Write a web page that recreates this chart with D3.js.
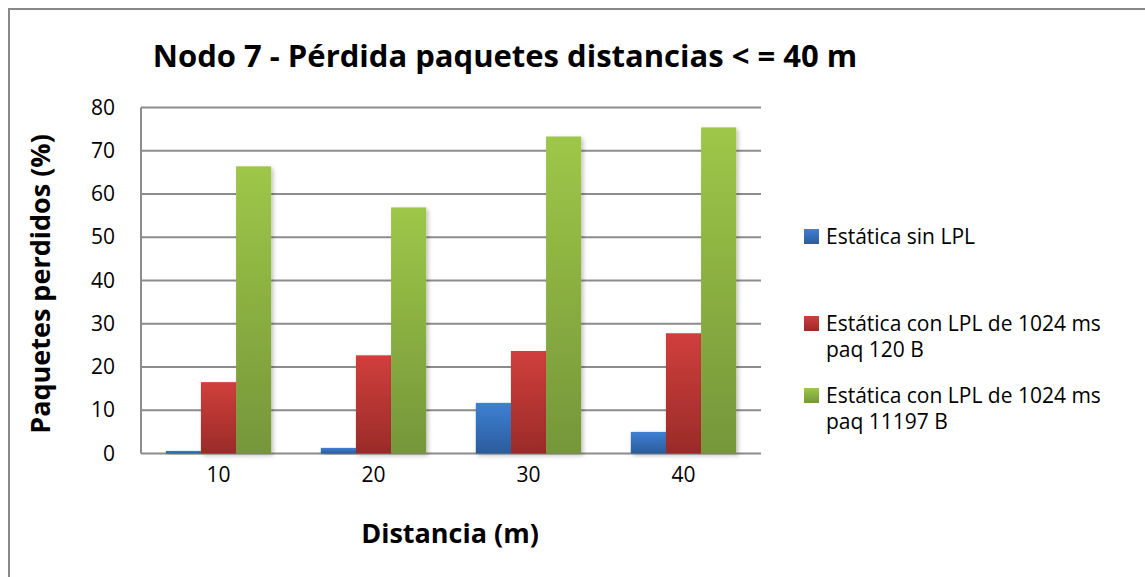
<!DOCTYPE html>
<html lang="es">
<head>
<meta charset="utf-8">
<title>Nodo 7 - Pérdida paquetes</title>
<script src="https://cdn.jsdelivr.net/npm/d3@7"></script>
<style>
  body { margin: 0; background: #fff; }
  text { font-family: "Open Sans", sans-serif; fill: #000; }
</style>
</head>
<body>
<script>
var categories = ["10", "20", "30", "40"];
var seriesNames = ["Estática sin LPL", "Estática con LPL de 1024 ms paq 120 B", "Estática con LPL de 1024 ms paq 11197 B"];
var legendLines = [["Estática sin LPL"], ["Estática con LPL de 1024 ms", "paq 120 B"], ["Estática con LPL de 1024 ms", "paq 11197 B"]];
var sinLPL = [0.6, 1.3, 11.7, 5.0];
var lpl120 = [16.5, 22.7, 23.7, 27.8];
var lpl11197 = [66.4, 56.9, 73.3, 75.4];
var yTicks = [0, 10, 20, 30, 40, 50, 60, 70, 80];

var series = [sinLPL, lpl120, lpl11197];
var colorsTop = ["#3e80d3", "#d03f3c", "#9ec748"];
var colorsBottom = ["#2b5c9c", "#9a2b29", "#76963a"];

var width = 1145, height = 577;
var svg = d3.select("body").append("svg")
  .attr("width", width)
  .attr("height", height);

var defs = svg.append("defs");
series.forEach(function(s, i) {
  var g = defs.append("linearGradient")
    .attr("id", "grad" + i)
    .attr("x1", 0).attr("y1", 0).attr("x2", 0).attr("y2", 1);
  g.append("stop").attr("offset", "0%").attr("stop-color", colorsTop[i]);
  g.append("stop").attr("offset", "100%").attr("stop-color", colorsBottom[i]);
});
var shadow = defs.append("filter").attr("id", "shadow")
  .attr("x", "-30%").attr("y", "-10%").attr("width", "160%").attr("height", "130%");
shadow.append("feDropShadow").attr("dx", 2).attr("dy", 2)
  .attr("stdDeviation", 2).attr("flood-color", "#000").attr("flood-opacity", 0.25);

// frame
svg.append("rect")
  .attr("x", 9).attr("y", 9)
  .attr("width", 1145).attr("height", 577)
  .attr("fill", "none").attr("stroke", "#888").attr("stroke-width", 2);

var plotLeft = 141, plotRight = 761, plotTop = 107.5, plotBottom = 453.5;

var x = d3.scaleBand()
  .domain(categories)
  .range([plotLeft, plotRight])
  .paddingInner(0.32)
  .paddingOuter(0.16);

var xInner = d3.scaleBand()
  .domain(d3.range(series.length))
  .range([0, x.bandwidth()]);

var y = d3.scaleLinear()
  .domain([0, 80])
  .range([plotBottom, plotTop]);

// gridlines
svg.append("g")
  .selectAll("line")
  .data(yTicks)
  .enter()
  .append("line")
  .attr("x1", plotLeft)
  .attr("x2", plotRight)
  .attr("y1", function(d) { return y(d); })
  .attr("y2", function(d) { return y(d); })
  .attr("stroke", "#8c8c8c")
  .attr("stroke-width", 2);

// left axis line
svg.append("line")
  .attr("x1", plotLeft).attr("x2", plotLeft)
  .attr("y1", plotTop).attr("y2", plotBottom)
  .attr("stroke", "#8c8c8c").attr("stroke-width", 2);

// bars
var groups = svg.append("g")
  .selectAll("g")
  .data(categories)
  .enter()
  .append("g")
  .attr("transform", function(d) { return "translate(" + x(d) + ",0)"; });

groups.selectAll("rect")
  .data(function(d, ci) { return series.map(function(s, si) { return { si: si, v: s[ci] }; }); })
  .enter()
  .append("rect")
  .attr("x", function(d) { return xInner(d.si); })
  .attr("width", xInner.bandwidth())
  .attr("y", function(d) { return y(d.v); })
  .attr("height", function(d) { return y(0) - y(d.v); })
  .attr("fill", function(d) { return "url(#grad" + d.si + ")"; })
  .attr("filter", "url(#shadow)");

// y axis labels
var yAxis = d3.axisLeft(y).tickValues(yTicks).tickSize(0).tickPadding(26);
var yg = svg.append("g")
  .attr("transform", "translate(" + plotLeft + ",0)")
  .call(yAxis);
yg.select(".domain").remove();
yg.selectAll("text").style("font-size", "21px").attr("fill", "#000");

// x axis labels
var xAxis = d3.axisBottom(x).tickSize(0).tickPadding(14);
var xg = svg.append("g")
  .attr("transform", "translate(0," + plotBottom + ")")
  .call(xAxis);
xg.select(".domain").remove();
xg.selectAll("text").style("font-size", "21px").attr("fill", "#000");

// title
svg.append("text")
  .attr("x", 505).attr("y", 67)
  .attr("text-anchor", "middle")
  .style("font-size", "31px").style("font-weight", "bold")
  .text("Nodo 7 - Pérdida paquetes distancias < = 40 m");

svg.append("text")
  .attr("x", 450).attr("y", 543)
  .attr("text-anchor", "middle")
  .style("font-size", "27px").style("font-weight", "bold")
  .text("Distancia (m)");

svg.append("text")
  .attr("transform", "translate(50,284) rotate(-90)")
  .attr("text-anchor", "middle")
  .style("font-size", "27px").style("font-weight", "bold")
  .text("Paquetes perdidos (%)");

// legend
var legendY = [244, 331, 403];
var legend = svg.append("g")
  .selectAll("g")
  .data(seriesNames)
  .enter()
  .append("g")
  .attr("transform", function(d, i) { return "translate(804," + legendY[i] + ")"; });

legend.append("rect")
  .attr("x", 0).attr("y", -15)
  .attr("width", 15).attr("height", 15)
  .attr("fill", function(d, i) { return "url(#grad" + i + ")"; });

legend.append("text")
  .attr("x", 22)
  .attr("y", 0)
  .style("font-size", "21px")
  .each(function(d, i) {
    var t = d3.select(this);
    legendLines[i].forEach(function(line, k) {
      t.append("tspan").attr("x", 22).attr("dy", k === 0 ? 0 : 26).text(line);
    });
  });
</script>
</body>
</html>
